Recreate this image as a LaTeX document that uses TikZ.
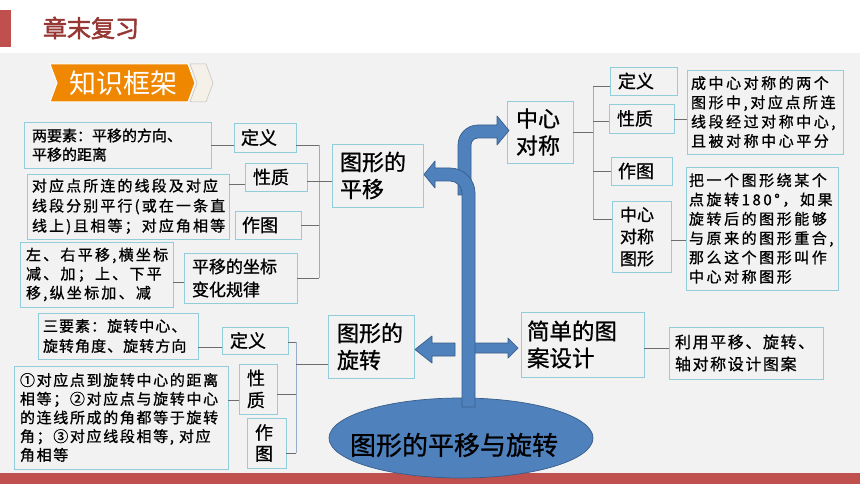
\documentclass[tikz,border=0pt]{standalone}
\usepackage{fontspec}
\setmainfont[FakeBold=0.9]{Noto Sans CJK SC}
\newfontfamily\titlefont[FakeBold=2.2]{Noto Sans CJK SC}
\newfontfamily\thinfont{Noto Sans CJK SC}
\usetikzlibrary{shapes.geometric}
\definecolor{bgc}{RGB}{242,242,242}
\definecolor{boxc}{RGB}{146,205,220}
\definecolor{linec}{RGB}{110,110,110}
\definecolor{brkc}{RGB}{150,172,200}
\definecolor{redc}{RGB}{192,80,77}
\definecolor{titlec}{RGB}{150,55,52}
\definecolor{orangec}{RGB}{239,135,0}
\definecolor{creamc}{RGB}{245,241,233}
\definecolor{treeC}{RGB}{79,129,189}
\definecolor{treeD}{RGB}{56,93,138}
\tikzset{
  box/.style={draw=boxc, line width=0.9pt, fill=bgc, inner sep=0pt, align=left, anchor=center},
  conn/.style={draw=linec, line width=0.8pt},
  brk/.style={draw=brkc, line width=0.9pt},
  tree/.style={fill=treeC, draw=treeD, line width=0.7pt, line join=round},
  lab/.style={font=\fontsize{18}{22}\selectfont},
  big/.style={font=\fontsize{22}{27}\selectfont},
  tA/.style={font=\fontsize{15}{19}\selectfont},
  tB/.style={font=\fontsize{15}{20}\selectfont\addfontfeature{LetterSpace=14}},
  tC/.style={font=\fontsize{15}{19}\selectfont\addfontfeature{LetterSpace=15}},
  tD/.style={font=\fontsize{15}{19.3}\selectfont\addfontfeature{LetterSpace=17}},
  tE/.style={font=\fontsize{15}{20}\selectfont\addfontfeature{LetterSpace=7}},
  tF/.style={font=\fontsize{15}{18.7}\selectfont\addfontfeature{LetterSpace=11}},
  tG/.style={font=\fontsize{16}{22}\selectfont\addfontfeature{LetterSpace=10}},
}
\begin{document}
\begin{tikzpicture}[x=1pt,y=-1pt]
\useasboundingbox (0,0) rectangle (860,484);
% background
\fill[white] (0,0) rectangle (860,53);
\fill[bgc] (0,53) rectangle (860,473);
\fill[redc] (0,473) rectangle (860,484);
\fill[redc] (0,10) rectangle (11,47);
\node[font=\titlefont\fontsize{24}{24}\selectfont, text=titlec] (title) at (91,28) {章末复习};
% banner
\filldraw[fill=creamc, draw=black!25, line width=0.5pt] (190,64) -- (206,64) -- (213,83) -- (206,102) -- (190,102) -- (197,83) -- cycle;
\filldraw[fill=orangec, draw=white, line width=1pt] (50,64) -- (188,64) -- (195,83) -- (188,102) -- (50,102) -- (57,83) -- cycle;
\node[font=\thinfont\fontsize{27}{27}\selectfont, text=white] (banner) at (123,83) {知识框架};

% ---------- left top: translation ----------
\node[box, tA, minimum width=187, minimum height=46, text width=171] (A1) at (117.5,145) {两要素：平移的方向、\\平移的距离};
\node[box, tB, minimum width=202, minimum height=65, text width=192] (A2) at (128,206.5) {对应点所连的线段及对应\\线段分别平行(或在一条直\\线上)且相等；对应角相等};
\node[box, tC, minimum width=153, minimum height=65, text width=141] (A3) at (96.5,274.5) {左、右平移,横坐标\\减、加；上、下平\\移,纵坐标加、减};
\node[box, font=\fontsize{17}{23}\selectfont, minimum width=113, minimum height=50, text width=97] (A4) at (240.5,278) {平移的坐标\\变化规律};
\node[box, lab, minimum width=62, minimum height=29, text width=48] (L1) at (265,137.5) {定义};
\node[box, lab, minimum width=62, minimum height=28, text width=46] (L2) at (276,177) {性质};
\node[box, lab, minimum width=66, minimum height=28, text width=52] (L3) at (268,225) {作图};
\node[box, big, minimum width=91, minimum height=63, text width=75] (T1) at (377.5,175.5) {图形的\\平移};

\coordinate (b1t) at (319,145);
\coordinate (b1b) at (319,278);
\coordinate (y181) at (0,181);
\coordinate (y184) at (0,184);
\coordinate (y282) at (0,282);
\draw[brk] (b1t) -- (b1b);
\draw[conn] (A1.east) -- (A1.east -| L1.west);
\draw[conn] (L1.east |- b1t) -- (b1t);
\draw[conn] (A2.east |- y184) -- (L2.west |- y184);
\draw[conn] (L2.east |- y181) -- (T1.west |- y181);
\draw[conn] (L3.east) -- (L3.east -| b1t);
\draw[conn] (A3.east |- y282) -- (A4.west |- y282);
\draw[conn] (A4.east |- b1b) -- (b1b);

% ---------- right top: central symmetry ----------
\node[box, big, minimum width=66, minimum height=62, text width=48] (C1) at (540,132) {中心\\对称};
\node[box, lab, minimum width=67, minimum height=28, text width=51] (R1) at (643.5,81) {定义};
\node[box, lab, minimum width=65, minimum height=29, text width=49] (R2) at (641.5,118.5) {性质};
\node[box, lab, minimum width=61, minimum height=28, text width=47] (R3) at (641.5,171) {作图};
\node[box, font=\fontsize{17}{22}\selectfont, minimum width=59, minimum height=71, text width=43] (R4) at (641.5,236.5) {中心\\对称\\图形};
\node[box, tD, minimum width=156, minimum height=84, text width=148] (RD1) at (765,112) {成中心对称的两个\\图形中,对应点所连\\线段经过对称中心,\\且被对称中心平分};
\node[box, tD, minimum width=152, minimum height=123, text width=146] (RD2) at (762,228.5) {把一个图形绕某个\\点旋转180°，如果\\旋转后的图形能够\\与原来的图形重合,\\那么这个图形叫作\\中心对称图形};

\coordinate (b2t) at (593,86);
\coordinate (b2b) at (593,219);
\coordinate (y119) at (0,119);
\coordinate (y121) at (0,121);
\coordinate (y240) at (0,240);
\draw[brk] (b2t) -- (b2b);
\draw[conn] (C1.east) -- (C1.east -| b2t);
\draw[conn] (b2t) -- (R1.west |- b2t);
\draw[conn] (b2t |- y121) -- (R2.west |- y121);
\draw[conn] (b2t |- R3.west) -- (R3.west);
\draw[conn] (b2b) -- (R4.west |- b2b);
\draw[conn] (R2.east |- y119) -- (RD1.west |- y119);
\draw[conn] (R4.east |- y240) -- (RD2.west |- y240);

% ---------- pattern design ----------
\node[box, font=\fontsize{22.5}{27}\selectfont, minimum width=123, minimum height=65, text width=111] (S1) at (582.5,344.5) {简单的图\\案设计};
\node[box, tG, minimum width=154, minimum height=52, text width=142] (S2) at (746,353) {利用平移、旋转、\\轴对称设计图案};
\coordinate (y348) at (0,348);
\draw[conn] (S1.east |- y348) -- (S2.west |- y348);

% ---------- bottom left: rotation ----------
\node[box, big, minimum width=86, minimum height=63, text width=68] (T2) at (371,346.5) {图形的\\旋转};
\node[box, tE, minimum width=160, minimum height=46, text width=150] (B1) at (118,336) {三要素：旋转中心、\\旋转角度、旋转方向};
\node[box, lab, minimum width=66, minimum height=27, text width=50] (D1) at (255,340.5) {定义};
\node[box, font=\fontsize{18}{22}\selectfont, minimum width=38, minimum height=50, text width=22] (D2) at (258,389) {性\\质};
\node[box, font=\fontsize{18}{21}\selectfont, minimum width=39, minimum height=50, text width=23] (D3) at (266.5,443) {作\\图};
\node[box, tF, minimum width=214, minimum height=103, text width=202] (B2) at (121,417.5) {①对应点到旋转中心的距离\\相等；②对应点与旋转中心\\的连线所成的角都等于旋转\\角；③对应线段相等, 对应\\角相等};

\coordinate (b3t) at (296,342);
\coordinate (b3b) at (296,453);
\coordinate (y347) at (0,347);
\coordinate (y364) at (0,364);
\coordinate (y394) at (0,394);
\coordinate (y400) at (0,400);
\draw[brk] (b3t) -- (b3b);
\draw[conn] (B1.east |- y347) -- (D1.west |- y347);
\draw[conn] (D1.east |- b3t) -- (b3t);
\draw[conn] (D2.east |- y394) -- (b3t |- y394);
\draw[conn] (D3.east |- b3b) -- (b3b);
\draw[conn] (B2.east |- y400) -- (D2.west |- y400);
\draw[conn] (b3t |- y364) -- (T2.west |- y364);

% ---------- tree ----------
\node[ellipse, tree, minimum width=264, minimum height=80, inner sep=0pt] (root) at (461,438) {};
% upper branch to central symmetry
\draw[tree] (458,195) -- (458,145) arc[start angle=180, end angle=270, radius=20]
  -- (497,125) -- (497,116) -- (509,130.5) -- (497,145) -- (497,138) -- (478,138)
  arc[start angle=270, end angle=180, radius=7] -- (471,195) -- cycle;
% right arrow to pattern design
\draw[tree] (472,343) -- (508,343) -- (508,338) -- (518,348) -- (508,358) -- (508,353) -- (472,353) -- cycle;
% trunk with left branch to translation
\draw[tree] (475,407) -- (475,193) arc[start angle=0, end angle=-90, radius=25]
  -- (435,168) -- (435,161) -- (424,174.5) -- (435,188) -- (435,181) -- (450,181)
  arc[start angle=-90, end angle=0, radius=12] -- (462,407) -- cycle;
% left arrow to rotation
\draw[tree] (455,343) -- (432,343) -- (432,336) -- (415,349.5) -- (432,363) -- (432,356) -- (455,356) -- cycle;
\node[font=\fontsize{26}{26}\selectfont] (rootlabel) at (454,445) {图形的平移与旋转};
\end{tikzpicture}
\end{document}
